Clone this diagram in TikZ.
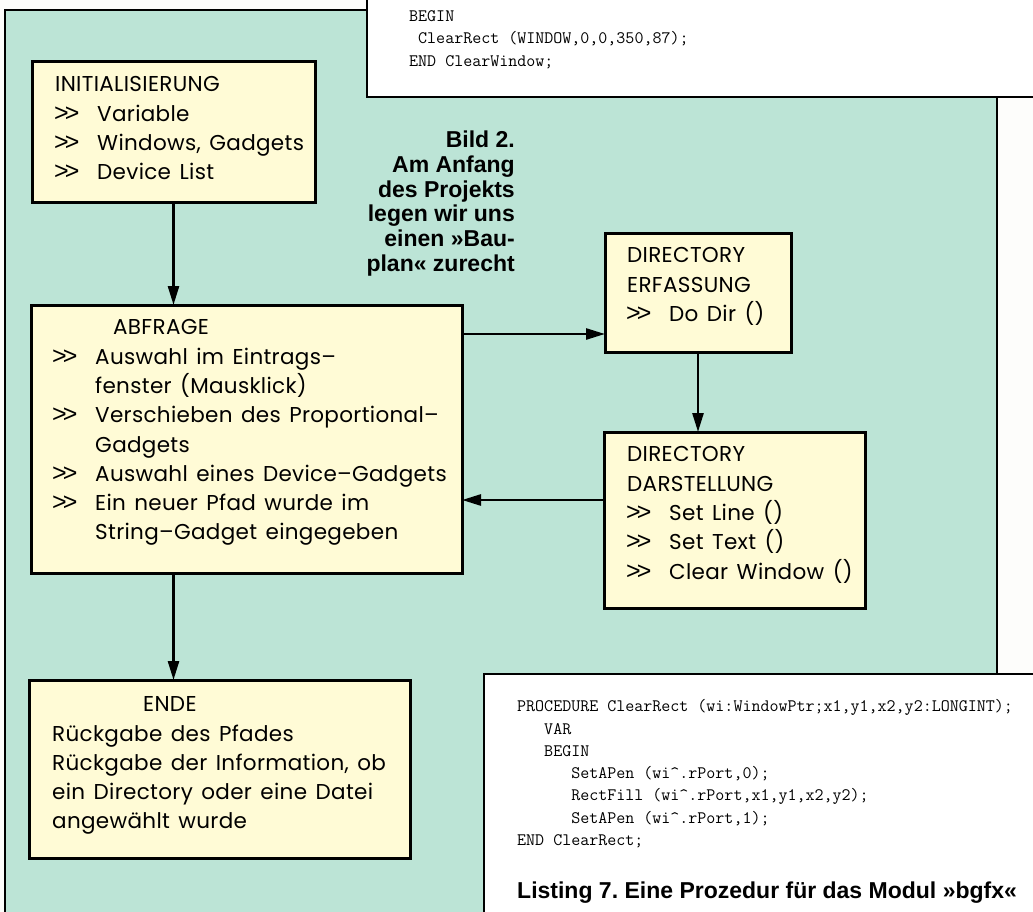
\documentclass[tikz,border=0pt]{standalone}
\usepackage{fontspec}
\setmainfont{Poppins}[LetterSpace=1.5,WordSpace=1.4]
\newfontfamily\legendfont{Liberation Sans}
\usetikzlibrary{arrows.meta,calc}

\definecolor{panelgruen}{RGB}{188,228,214}
\definecolor{kastengelb}{RGB}{255,251,214}
\definecolor{papier}{RGB}{253,253,251}

\newcommand{\spitz}{\makebox[42pt][l]{\legendfont\fontsize{25}{25}\selectfont\kern-1pt>\kern-4pt>}}
\frenchspacing

\begin{document}
\begin{tikzpicture}[x=1pt,y=-1pt,
	kasten/.style={draw, line width=3pt, fill=kastengelb, inner sep=0pt, outer sep=0pt, anchor=north west},
	zeilen/.style={anchor=north west, align=left, inner sep=0pt, font=\fontsize{21.5}{29.3}\selectfont, execute at begin node=\strut},
	pfeil/.style={line width=2.6pt, -{Triangle[length=19pt,width=11pt]}},
	listing/.style={draw, line width=2.5pt, fill=white},
	code/.style={anchor=north west, align=left, inner sep=0pt, font=\ttfamily\fontsize{17.5}{22.3}\selectfont, execute at begin node=\strut},
	legende/.style={inner sep=0pt, font=\legendfont\bfseries\fontsize{23}{24.8}\selectfont}]
	\useasboundingbox (0,0) rectangle (1033,912);
	\clip (0,0) rectangle (1033,912);
	\fill[papier] (0,0) rectangle (1033,912);
	% die gruene Flaeche
	\fill[panelgruen] (5,10) rectangle (997,930);
	\draw[line width=2.5pt] (5,930) -- (5,10) -- (997,10) -- (997,930);
	% die beiden Listings
	\draw[listing] (367,-10) rectangle (1045,97);
	\node[code] (oben) at (409,10.4) {BEGIN\\\ ClearRect (WINDOW,0,0,350,87);\\END ClearWindow;};
	\draw[listing] (484,674) rectangle (1045,930);
	\node[code] (unten) at (517,699.4) {PROCEDURE ClearRect (wi:WindowPtr;x1,y1,x2,y2:LONGINT);\\
		\ \ \ VAR\\
		\ \ \ BEGIN\\
		\ \ \ \ \ \ SetAPen (wi\textasciicircum.rPort,0);\\
		\ \ \ \ \ \ RectFill (wi\textasciicircum.rPort,x1,y1,x2,y2);\\
		\ \ \ \ \ \ SetAPen (wi\textasciicircum.rPort,1);\\
		END ClearRect;};
	\node[legende, anchor=base west] (listing7) at (517,898) {Listing 7. Eine Prozedur für das Modul »bgfx«};
	\node[legende, anchor=north east, align=right, execute at begin node=\strut] (bild2) at (515,130.6)
		{Bild 2.\\Am Anfang\\des Projekts\\legen wir uns\\einen »Bau-\\plan« zurecht};
	% die Kaesten
	\node[kasten, minimum width=283pt, minimum height=141pt] (init) at (32,62) {};
	\node[kasten, minimum width=431pt, minimum height=268pt] (abfrage) at (31,305) {};
	\node[kasten, minimum width=381pt, minimum height=178pt] (ende) at (29,680) {};
	\node[kasten, minimum width=186pt, minimum height=119pt] (erfassung) at (605,233) {};
	\node[kasten, minimum width=261pt, minimum height=176pt] (darstellung) at (604,432) {};
	\node[zeilen] (initT) at (55,76.5) {INITIALISIERUNG\\\spitz Variable\\\spitz Windows, Gadgets\\\spitz Device List};
	\node[zeilen] (abfrageT) at (53,319.5) {\hspace*{60pt}ABFRAGE\\
		\spitz Auswahl im Eintrags–\\
		\hspace*{42pt}fenster (Mausklick)\\
		\spitz Verschieben des Proportional–\\
		\hspace*{42pt}Gadgets\\
		\spitz Auswahl eines Device–Gadgets\\
		\spitz Ein neuer Pfad wurde im\\
		\hspace*{42pt}String–Gadget eingegeben};
	\node[zeilen] (endeT) at (52,696.5) {\hspace*{91pt}ENDE\\Rückgabe des Pfades\\Rückgabe der Information, ob\\ein Directory oder eine Datei\\angewählt wurde};
	\node[zeilen] (erfassungT) at (627,247.5) {DIRECTORY\\ERFASSUNG\\\spitz Do Dir ()};
	\node[zeilen] (darstellungT) at (627,446.5) {DIRECTORY\\DARSTELLUNG\\\spitz Set Line ()\\\spitz Set Text ()\\\spitz Clear Window ()};
	% die Pfeile
	\coordinate (ein) at ($(erfassung.south west)+(0,-18)$);
	\coordinate (aus) at ($(darstellung.north west)+(0,68)$);
	\draw[pfeil] (init.south) -- (abfrage.north -| init.south);
	\draw[pfeil] (abfrage.south -| init.south) -- (ende.north -| init.south);
	\draw[pfeil] (abfrage.east |- ein) -- (ein);
	\draw[pfeil] (erfassung.south) -- (darstellung.north -| erfassung.south);
	\draw[pfeil] (aus) -- (abfrage.east |- aus);
\end{tikzpicture}
\end{document}
